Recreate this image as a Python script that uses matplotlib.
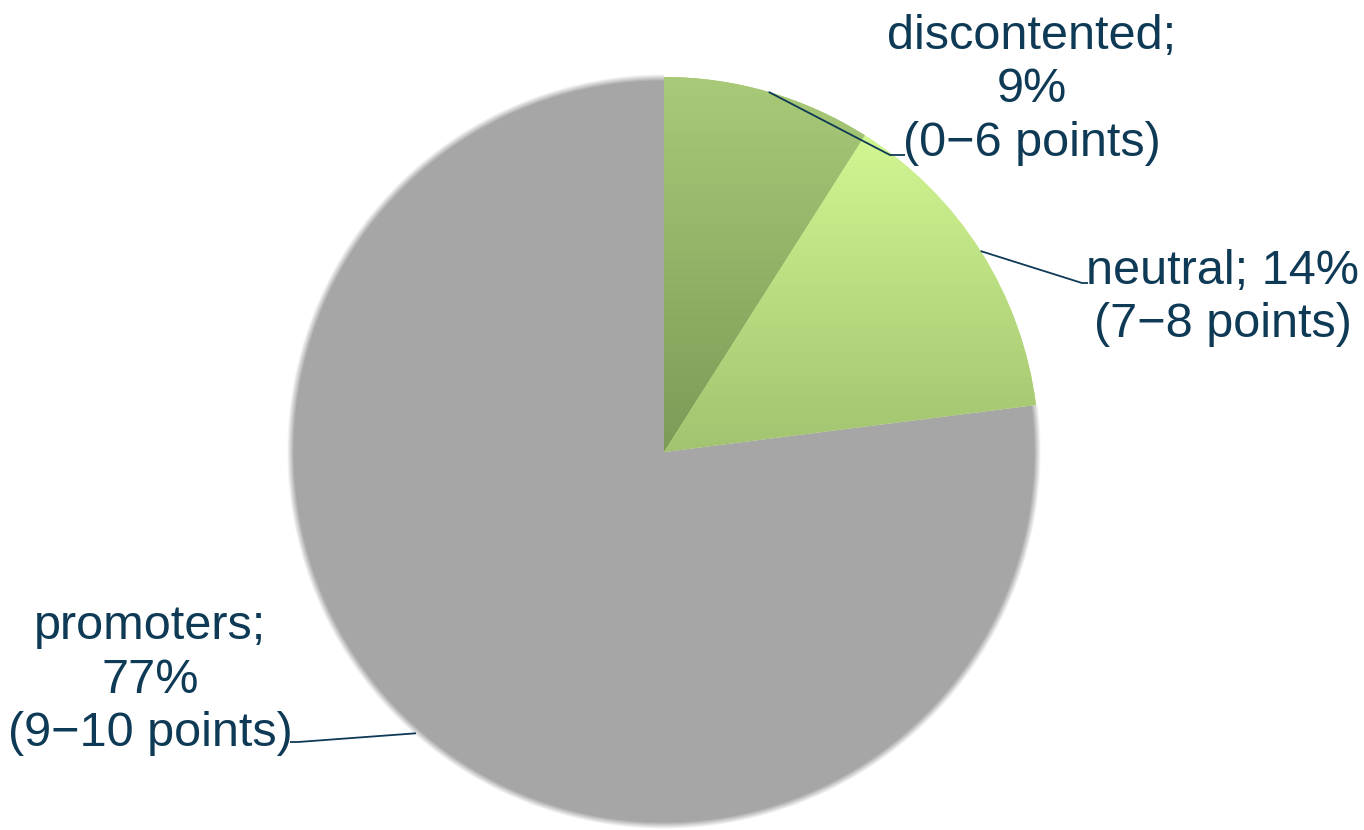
import numpy as np
import matplotlib.pyplot as plt
from matplotlib.colors import LinearSegmentedColormap, to_rgb
from matplotlib.patches import Wedge

plt.rcParams['font.family'] = ['Liberation Sans', 'DejaVu Sans']

groups = ["discontented", "neutral", "promoters"]
shares = [9, 14, 77]
ranges = ["0\u22126", "7\u22128", "9\u221210"]

text_color = "#0e3a56"
gray = "#a6a6a6"
# top / bottom colours of the two green slices
grad_colors = [("#a9ca78", "#7c9b57"), ("#d1f691", "#a2c370")]

W, H = 1364, 830
cx, cy, R = 664, 378, 375

fig = plt.figure(figsize=(W / 100, H / 100), dpi=100)
ax = fig.add_axes([0, 0, 1, 1])

wedges, _ = ax.pie(shares, startangle=90, counterclock=False, center=(cx, cy),
                   radius=R, frame=True, colors=["#a6c874", "#c4e88a", gray],
                   wedgeprops=dict(linewidth=0))

# gray slice painted with a soft, blurred rim (one image pixel per output pixel)
gw = wedges[2]
gw.set_alpha(0)
xs = np.arange(cx - R - 10, cx + R + 11) + 0.5
ys = np.arange(cy - R - 10, cy + R + 11) + 0.5
dx, dy = np.meshgrid(xs - cx, ys - cy)
fade = np.clip((R + 2 - np.hypot(dx, dy)) / 7, 0, 1)
rgba = np.zeros(fade.shape + (4,))
rgba[..., :3] = to_rgb(gray)
rgba[..., 3] = fade
img = ax.imshow(rgba, origin="lower", aspect="auto", interpolation="none",
                extent=[xs[0] - 0.5, xs[-1] + 0.5, ys[0] - 0.5, ys[-1] + 0.5],
                zorder=1)
clip = Wedge((cx, cy), R + 12, gw.theta1, gw.theta2, transform=ax.transData)
img.set_clip_path(clip)

# vertical gradients clipped to the green slices
for w, (c_top, c_bot) in zip(wedges[:2], grad_colors):
    cmap = LinearSegmentedColormap.from_list("g", [c_bot, c_top])
    grad = np.linspace(0, 1, 256).reshape(-1, 1)
    bb = w.get_path().get_extents(w.get_patch_transform())
    im = ax.imshow(grad, cmap=cmap, origin="lower", aspect="auto",
                   extent=[bb.x0, bb.x1, bb.y0, bb.y1], zorder=3)
    im.set_clip_path(w)

# labels with leader lines starting at the middle of each arc
label_pos = [(1032, 740), (1223, 532), (150, 150)]
label_text = ["{};\n{}%\n({} points)", "{}; {}%\n({} points)", "{};\n{}%\n({} points)"]
elbow = [((890, 675), (905, 675)), ((1082, 547), (1088, 547)), ((298, 88), (290, 88))]

for w, g, s, r, pos, fmt, (p1, p2) in zip(wedges, groups, shares, ranges,
                                           label_pos, label_text, elbow):
    mid = np.deg2rad((w.theta1 + w.theta2) / 2)
    x0, y0 = cx + R * np.cos(mid), cy + R * np.sin(mid)
    ax.plot([x0, p1[0], p2[0]], [y0, p1[1], p2[1]], color=text_color, lw=1.3,
            zorder=5, solid_capstyle="butt")
    ax.text(pos[0], pos[1], fmt.format(g, s, r), ha="center", va="center",
            fontsize=35, color=text_color, linespacing=1.23, zorder=6)

ax.set_xlim(0, W)
ax.set_ylim(0, H)
ax.set_aspect("auto")
ax.axis("off")

fig.savefig("out.png", dpi=100)
